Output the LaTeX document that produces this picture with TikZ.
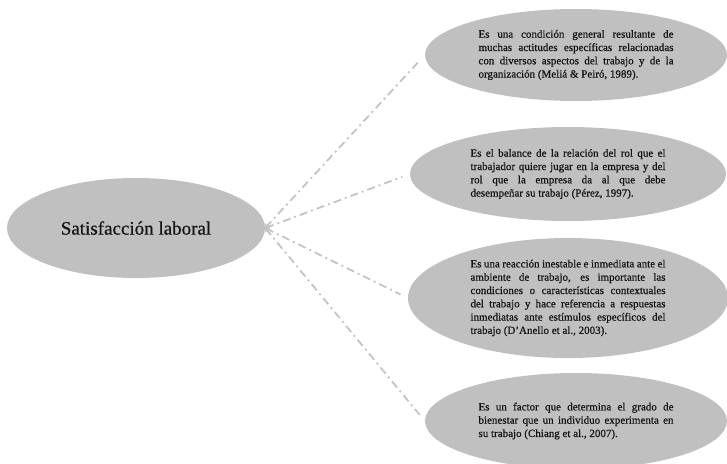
\documentclass[tikz,border=0pt]{standalone}
\usepackage{fontspec}
\setmainfont{Liberation Serif}
\newfontfamily\heavyserif[FakeBold=0.6]{Liberation Serif}
\usetikzlibrary{arrows.meta,shapes.geometric}
\definecolor{bubblefill}{RGB}{192,192,192}
\definecolor{linkgray}{RGB}{196,196,196}
\definecolor{inkdark}{RGB}{20,20,20}
\begin{document}
\begin{tikzpicture}[x=1pt,y=-1pt,
  bubble/.style={ellipse, fill=bubblefill, draw=none, inner sep=0pt,
    text=inkdark},
  defbubble/.style={bubble, text width=195pt, align=justify,
    font=\heavyserif\fontsize{11}{13.3}\selectfont},
  link/.style={draw=linkgray, line width=1.8pt,
    dash pattern=on 8pt off 4pt on 2pt off 4pt,
    {Straight Barb[length=3pt,width=6pt,line width=0.8pt]}-, shorten >=8pt}
]
\useasboundingbox (0,0) rectangle (727,463);

% central concept
\node[bubble, minimum width=258pt, minimum height=100pt,
  font=\heavyserif\fontsize{19}{22}\selectfont] (core) at (136,228) {Satisfacción laboral};

% definitions
\node[defbubble, minimum width=302pt, minimum height=92pt] (d1) at (576,55)
  {Es una condición general resultante de\linebreak
   muchas actitudes específicas relacionadas\linebreak
   con diversos aspectos del trabajo y de la\linebreak
   organización (Meliá \& Peiró, 1989).};

\node[defbubble, minimum width=316pt, minimum height=94pt] (d2) at (568,174)
  {Es el balance de la relación del rol que el\linebreak
   trabajador quiere jugar en la empresa y del\linebreak
   rol que la empresa da al que debe\linebreak
   desempeñar su trabajo (Pérez, 1997).};

\node[defbubble, minimum width=320pt, minimum height=120pt] (d3) at (568,298)
  {Es una reacción inestable e inmediata ante el\linebreak
   ambiente de trabajo, es importante las\linebreak
   condiciones o características contextuales\linebreak
   del trabajo y hace referencia a respuestas\linebreak
   inmediatas ante estímulos específicos del\linebreak
   trabajo (D’Anello et al., 2003).};

\node[defbubble, minimum width=302pt, minimum height=96pt] (d4) at (576,421)
  {Es un factor que determina el grado de\linebreak
   bienestar que un individuo experimenta en\linebreak
   su trabajo (Chiang et al., 2007).};

% connectors
\foreach \d in {d1,d2,d3,d4}
  \draw[link] (core.east) -- (\d.west);
\end{tikzpicture}
\end{document}
